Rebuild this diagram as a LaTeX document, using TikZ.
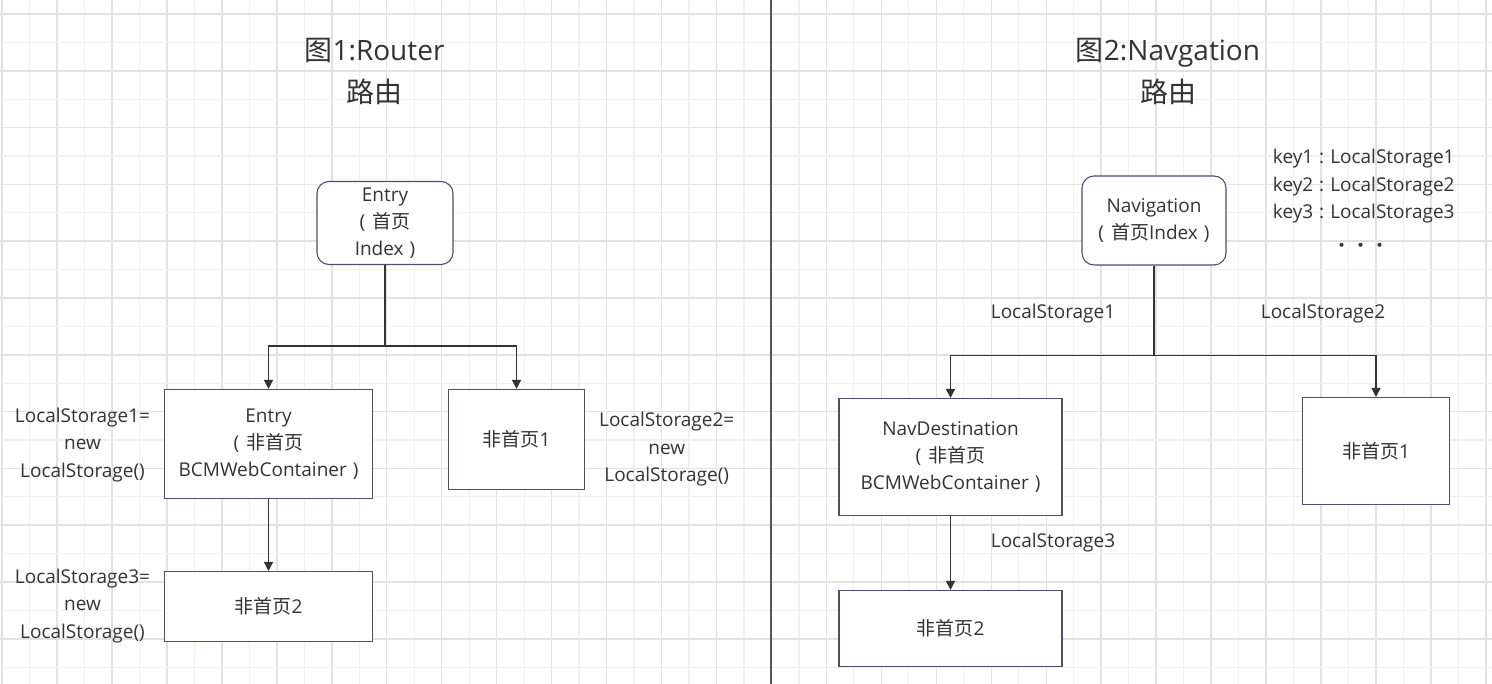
\documentclass[tikz,border=0pt]{standalone}
\usepackage{fontspec}
\setmainfont{Open Sans}
\newfontfamily\cjk{Noto Sans CJK SC}
\usetikzlibrary{arrows.meta}
\definecolor{gridA}{HTML}{E2E2E2}
\definecolor{gridB}{HTML}{F0F0F0}
\definecolor{boxline}{HTML}{4A4E78}
\definecolor{txt}{HTML}{333333}
\definecolor{connc}{HTML}{333333}
\definecolor{divc}{HTML}{555555}
\newcommand\lp{(\hspace{7pt}}
\newcommand\rp{\hspace{6pt})}
\newcommand\kc{\hspace{6pt}:\hspace{6pt}}
\tikzset{
  griddark/.style={draw=gridA, line width=1.5pt},
  gridlight/.style={draw=gridB, line width=1.2pt},
  box/.style={draw=boxline, fill=white, line width=1.1pt, text=txt, align=center, inner sep=0pt, font=\fontsize{19}{27}\selectfont},
  rbox/.style={box, rounded corners=12pt},
  lbl/.style={text=txt, align=center, inner sep=0pt, font=\fontsize{19}{27.5}\selectfont},
  ttl/.style={text=txt, align=center, inner sep=0pt, font=\fontsize{28}{42}\selectfont},
  conn/.style={draw=connc, line width=1.4pt},
  arr/.style={conn, -{Triangle[width=9pt,length=9pt]}},
  divider/.style={draw=divc, line width=2pt},
}
\begin{document}
\begin{tikzpicture}[x=1pt,y=-1pt]
\useasboundingbox (0,0) rectangle (1492,684);
\fill[white] (0,0) rectangle (1492,684);
% grid
\foreach \k in {0,...,54}{
  \pgfmathsetmacro\xx{2+27.48*\k}
  \ifodd\k\relax \draw[gridlight] (\xx,0) -- (\xx,684); \else \draw[griddark] (\xx,0) -- (\xx,684); \fi
}
\foreach \k in {0,...,23}{
  \pgfmathsetmacro\yy{14+28.4*\k}
  \ifodd\k\relax \draw[gridlight] (0,\yy) -- (1492,\yy); \else \draw[griddark] (0,\yy) -- (1492,\yy); \fi
}
% divider
\draw[divider] (770.5,0) -- (770.5,684);

% titles
\node[ttl] (t1) at (374.5,71) {{\cjk 图}1:Router\\{\cjk 路由}};
\node[ttl] (t2) at (1168,71) {{\cjk 图}2:Navgation\\{\cjk 路由}};

% left: Router
\node[rbox, minimum width=136pt, minimum height=83pt] (e0) at (385,223) {Entry\\\lp{\cjk 首页}\\Index\rp};
\node[box, minimum width=208pt, minimum height=109pt] (e1) at (268.5,444) {Entry\\\lp{\cjk 非首页}\\BCMWebContainer\rp};
\node[box, minimum width=136pt, minimum height=100pt] (n1L) at (516.5,439.5) {{\cjk 非首页}1};
\node[box, minimum width=208pt, minimum height=70pt] (n2L) at (268.5,606.5) {{\cjk 非首页}2};

\coordinate (j1) at (385,346);
\draw[conn] (e0) -- (j1);
\draw[arr] (j1) -| (e1);
\draw[arr] (j1) -| (n1L);
\draw[arr] (e1) -- (n2L);

\node[lbl] (l1) at (82.5,445) {LocalStorage1=\\new\\LocalStorage()};
\node[lbl] (l2) at (666.7,449.5) {LocalStorage2=\\new\\LocalStorage()};
\node[lbl] (l3) at (82.5,606) {LocalStorage3=\\new\\LocalStorage()};

% right: Navigation
\node[rbox, minimum width=144pt, minimum height=89pt] (nav) at (1154,220.5) {Navigation\\\lp{\cjk 首页}Index\rp};
\node[box, minimum width=223pt, minimum height=117pt] (nd) at (950.5,457) {NavDestination\\\lp{\cjk 非首页}\\BCMWebContainer\rp};
\node[box, minimum width=147pt, minimum height=107pt] (n1R) at (1376,451) {{\cjk 非首页}1};
\node[box, minimum width=223pt, minimum height=76pt] (n2R) at (950.5,628.5) {{\cjk 非首页}2};

\coordinate (j2) at (1154,355.5);
\draw[conn] (nav) -- (j2);
\draw[arr] (j2) -| (nd);
\draw[arr] (j2) -| (n1R);
\draw[arr] (nd) -- (n2R);

\node[lbl] (r1) at (1053,314) {LocalStorage1};
\node[lbl] (r2) at (1323,314) {LocalStorage2};
\node[lbl] (r3) at (1053,543) {LocalStorage3};

\node[lbl, align=left, anchor=west] (keys) at (1272.7,186.5) {key1\kc LocalStorage1\\key2\kc LocalStorage2\\key3\kc LocalStorage3};
\node[lbl] (dots) at (1361,248) {{\cjk ・・・}};
\end{tikzpicture}
\end{document}
